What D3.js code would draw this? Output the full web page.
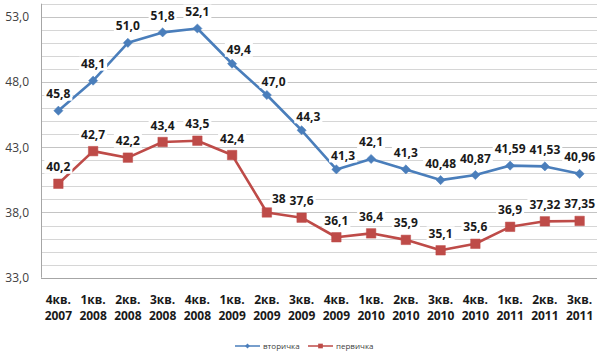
<!DOCTYPE html>
<html><head><meta charset="utf-8">
<script src="https://cdn.jsdelivr.net/npm/d3@7"></script>
<style>html,body{margin:0;padding:0;background:#fff}svg{display:block}</style>
</head><body>
<svg id="c" width="600" height="353"></svg>
<script>
const quarters = ["4кв.","1кв.","2кв.","3кв.","4кв.","1кв.","2кв.","3кв.","4кв.","1кв.","2кв.","3кв.","4кв.","1кв.","2кв.","3кв."];
const years = ["2007","2008","2008","2008","2008","2009","2009","2009","2009","2010","2010","2010","2010","2011","2011","2011"];
const secondary = [45.8,48.1,51.0,51.8,52.1,49.4,47.0,44.3,41.3,42.1,41.3,40.48,40.87,41.59,41.53,40.96];
const secondaryLabels = ["45,8","48,1","51,0","51,8","52,1","49,4","47,0","44,3","41,3","42,1","41,3","40,48","40,87","41,59","41,53","40,96"];
const primary = [40.2,42.7,42.2,43.4,43.5,42.4,38,37.6,36.1,36.4,35.9,35.1,35.6,36.9,37.32,37.35];
const primaryLabels = ["40,2","42,7","42,2","43,4","43,5","42,4","38","37,6","36,1","36,4","35,9","35,1","35,6","36,9","37,32","37,35"];
const yTicks = [33,38,43,48,53];
const seriesNames = ["вторичка","первичка"];

const svg = d3.select("#c");
const m = {l:41, r:3, t:3.7, b:75.3};
const W = 600, H = 353;
const x = d3.scaleBand().domain(d3.range(quarters.length)).range([m.l, W - m.r]);
const y = d3.scaleLinear().domain([33,54]).range([H - m.b, m.t]);
const cx = i => x(i) + x.bandwidth()/2;
const font = "'Open Sans', sans-serif";

// gridlines
const g = svg.append("g");
d3.range(34,55,1).forEach(v=>{
  g.append("line").attr("x1",m.l).attr("x2",W-m.r).attr("y1",Math.round(y(v))+0.5).attr("y2",Math.round(y(v))+0.5)
   .attr("stroke", (v-33)%5===0 ? "#c4c4c4" : "#d6d6d6").attr("stroke-width",1);
});
// axes
svg.append("line").attr("x1",m.l+0.5).attr("x2",m.l+0.5).attr("y1",m.t).attr("y2",y(33)).attr("stroke","#a6a6a6");
svg.append("line").attr("x1",m.l).attr("x2",W-m.r).attr("y1",Math.round(y(33))+0.5).attr("y2",Math.round(y(33))+0.5).attr("stroke","#a6a6a6");

// y tick labels
svg.append("g").selectAll("text").data(yTicks).join("text")
  .attr("x",29).attr("y",d=>y(d)+4.5).attr("text-anchor","end")
  .attr("font-family",font).attr("font-size",12).attr("fill","#404040")
  .text(d=>d3.format(".1f")(d).replace(".",","));

// x labels
const xl = svg.append("g");
quarters.forEach((q,i)=>{
  const t = xl.append("text").attr("x",cx(i)).attr("text-anchor","middle")
   .attr("font-family",font).attr("font-size",12).attr("font-weight","bold").attr("fill","#1a1a1a");
  t.append("tspan").attr("x",cx(i)).attr("y",303.5).text(q);
  t.append("tspan").attr("x",cx(i)).attr("y",319.5).text(years[i]);
});

const line = d3.line().x((d,i)=>cx(i)).y(d=>y(d));
const series = [
  {vals:secondary, labels:secondaryLabels, color:"#4a7ebb", marker:"diamond"},
  {vals:primary, labels:primaryLabels, color:"#be4b48", marker:"square"}
];

series.forEach(s=>{
  svg.append("path").attr("d",line(s.vals)).attr("fill","none").attr("stroke",s.color).attr("stroke-width",2.6).attr("stroke-linejoin","round");
  svg.append("g").selectAll("path").data(s.vals).join("path")
    .attr("d", s.marker==="diamond" ? d3.symbol(d3.symbolSquare, 42)() : d3.symbol(d3.symbolSquare, 90)())
    .attr("transform",(d,i)=>`translate(${cx(i)},${y(d)})` + (s.marker==="diamond" ? " rotate(45)" : ""))
    .attr("fill",s.color).attr("stroke",s.color).attr("stroke-width",0.5);
});

// data labels with white boxes
const measure = svg.append("text").attr("font-family",font).attr("font-size",12).attr("font-weight","bold");
const textW = str => { measure.text(str); return measure.node().getComputedTextLength(); };
series.forEach(s=>{
  const widths = s.labels.map(textW);
  s.vals.forEach((v,i)=>{
    const drop = i>0 ? s.vals[i-1]-v : 0;
    let dx = drop>2 ? 18 : 0;
    let dy = drop>2 ? -14 : -17;
    if (dx>0 && i<s.vals.length-1) {
      const nextLeft = cx(i+1) - widths[i+1]/2 - 2;
      const maxCenter = nextLeft - widths[i]/2 - 2;
      dx = Math.min(dx, maxCenter - cx(i));
    }
    const gx = cx(i)+dx, gy = y(v)+dy;
    const gg = svg.append("g");
    gg.append("rect").attr("x",gx-widths[i]/2-2).attr("y",gy-7).attr("width",widths[i]+4).attr("height",14).attr("fill","#fff");
    gg.append("text").attr("x",gx).attr("y",gy+4.5).attr("text-anchor","middle")
      .attr("font-family",font).attr("font-size",12).attr("font-weight","bold").attr("fill","#1a1a1a").text(s.labels[i]);
  });
});
measure.remove();

// legend
const leg = [{name:seriesNames[0], color:"#4a7ebb", size:12, rot:45, x:235},
             {name:seriesNames[1], color:"#be4b48", size:22, rot:0, x:308}];
leg.forEach(l=>{
  svg.append("line").attr("x1",l.x).attr("x2",l.x+25).attr("y1",346).attr("y2",346).attr("stroke",l.color).attr("stroke-width",1.5);
  svg.append("path").attr("d",d3.symbol(d3.symbolSquare,l.size)()).attr("transform",`translate(${l.x+12.5},346) rotate(${l.rot})`).attr("fill",l.color);
  svg.append("text").attr("x",l.x+28).attr("y",349).attr("font-family",font).attr("font-size",8).attr("fill","#404040").text(l.name);
});
</script>
</body></html>
